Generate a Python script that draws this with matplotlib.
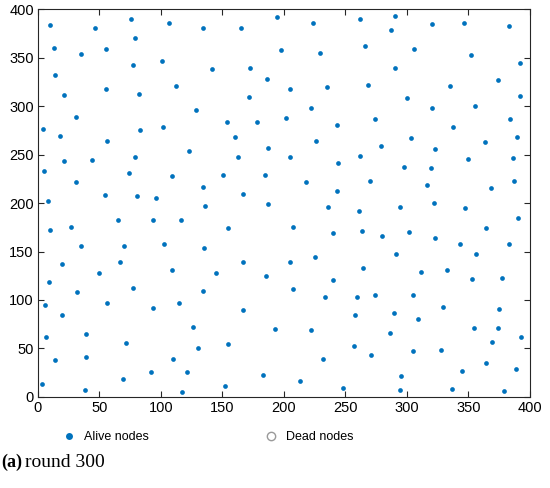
import matplotlib
matplotlib.use("Agg")
import matplotlib.pyplot as plt
from matplotlib.lines import Line2D

# Alive node positions (x, y)
alive_x = [9.5, 46.6, 75.6, 79.1, 12.8, 35, 55.5, 77, 14.1, 55, 21.4, 81.8, 31.2, 4.3, 82.6, 17.9,
           106.5, 134.1, 165, 194.3, 197.8, 101.1, 141.2, 172.4, 186.4, 112.5, 171.5, 128.2, 101.6, 153.4, 178.3, 159.9,
           223.3, 261.5, 290, 287, 229, 266.1, 290, 204.6, 235, 268.5, 299.7, 222.2, 201.4, 243.3, 274.2, 226.3,
           320.3, 346.3, 382.9, 305.4, 352, 391.6, 373.7, 334.7, 320, 355.5, 392.1, 383.5, 337.1, 303.5, 389.2,
           55.8, 21.4, 43.9, 78.9, 4.9, 74.2, 30.9, 54.7, 80.2, 95.9, 7.9, 64.8, 93.2, 9.8, 27.1, 35, 69.9, 19.5, 66.4, 49.6,
           122.5, 187, 162.6, 109.2, 150.4, 184.8, 134.4, 166.4, 135.8, 186.7, 116.3, 154.7, 102.4, 134.7, 166.4, 108.7, 144.5,
           278.9, 204.6, 244.1, 261.8, 297.3, 217.6, 269.7, 242.8, 236, 260.7, 294.3, 207.6, 240.1, 263.7, 279.7, 301.9,
           204.6, 225, 291, 264.2,
           363.4, 323, 349.8, 385.9, 319.5, 316, 368.5, 387.2, 322.2, 347.2, 390.5, 322.8, 364.2, 343.1, 382.7, 355.8,
           311.6, 332.8,
           9.2, 31.7, 77, 5.4, 55.8, 93.5, 19.2, 6.5, 38.7, 71.5, 13.8, 39.3, 91.9, 69.4, 3, 38.5,
           185.4, 133.9, 114.4, 166.9, 125.8, 192.9, 154.7, 130.3, 109.5, 120.9, 182.7, 151.8, 117.3,
           207.6, 239.8, 233.1, 259.6, 274, 257.7, 289.4, 222.2, 286.2, 256.9, 231.4, 270.5, 213, 248, 294.9, 294.6,
           352.8, 377, 304.6, 329, 375, 309.2, 354.7, 374, 369.1, 392.7, 305.1, 327.4, 364, 344.7, 388.9, 336.8, 378.9]
alive_y = [383.8, 380.7, 389.7, 370.4, 359.8, 353.6, 358.8, 342.6, 331.6, 317.8, 311.3, 312.4, 288.3, 276.3, 275.3, 268.8,
           385.2, 380.7, 380.7, 391.4, 357.7, 346.4, 338.5, 339.5, 327.8, 320.3, 309.3, 295.9, 278.7, 283.5, 283.2, 268.4,
           385.6, 389.3, 392.8, 378, 354.6, 362.2, 339.5, 317.5, 319.9, 321.6, 308.6, 297.9, 287.3, 280.4, 286.6, 264.2,
           384.5, 385.2, 382.5, 359.1, 352.3, 344.7, 326.8, 321, 297.6, 300, 310, 286.3, 278.4, 267.3, 268.4,
           264.2, 243.6, 244.6, 247.4, 233.3, 230.5, 221.6, 207.9, 207.2, 205.5, 202.1, 182.8, 182.8, 171.8, 174.9, 156, 156, 137.1, 138.9, 127.5,
           253.3, 256.7, 247.1, 228.1, 228.5, 228.5, 216.2, 209.6, 196.9, 199, 182.1, 174.5, 157.7, 153.6, 139.5, 131.2, 127.5,
           258.8, 247.4, 240.8, 248.1, 237.1, 221.3, 222.7, 212, 196.2, 191.8, 196.2, 175.3, 169.1, 171.1, 165.7, 169.8,
           139.5, 144.3, 147.1, 132.6,
           263.2, 256, 245.4, 246.4, 235.8, 218.2, 215.8, 222.7, 200, 194.8, 184.5, 164.2, 173.9, 158, 158, 147.7,
           129.2, 130.6,
           118.6, 107.9, 112.1, 95.2, 96.9, 91.8, 84.2, 61.9, 65.3, 55.3, 38.1, 40.9, 25.4, 18.2, 13.7, 6.9,
           124.7, 109.6, 97.2, 90, 71.9, 70.1, 54.3, 50.5, 39.5, 25.4, 23, 11.3, 5.2,
           111, 120.6, 103.1, 103.4, 105.5, 84.8, 86.2, 68.7, 66.3, 52.2, 39.2, 42.9, 16.2, 9.6, 22, 7.2,
           122, 122.7, 105.5, 92.8, 91, 80.4, 71.4, 71.4, 57, 62.2, 47.7, 48.8, 35.1, 27.1, 28.5, 8.6, 5.9]

dead_x = []
dead_y = []

x_ticks = [0, 50, 100, 150, 200, 250, 300, 350, 400]
y_ticks = [0, 50, 100, 150, 200, 250, 300, 350, 400]

blue = "#0072BD"
axc = "#262626"
plt.rcParams["font.family"] = ["Liberation Sans", "DejaVu Sans"]

fig = plt.figure(figsize=(5.5, 4.88), dpi=100)
ax = fig.add_axes([0.069, 0.1865, 0.8945, 0.795])
ax.plot(alive_x, alive_y, "o", color=blue, markersize=3.4, markeredgewidth=0, linestyle="none")
ax.plot(dead_x, dead_y, "o", mfc="none", mec="#9a9a9a", markersize=5, linestyle="none")
ax.set_xlim(0, 400)
ax.set_ylim(0, 400)
ax.set_xticks(x_ticks)
ax.set_yticks(y_ticks)
ax.tick_params(direction="in", top=True, right=True, length=4, width=0.8, colors=axc,
               labelsize=10.5, labelcolor="black", pad=3)
for s in ax.spines.values():
    s.set_color(axc)
    s.set_linewidth(0.8)

handles = [Line2D([], [], marker="o", color=blue, linestyle="none", markersize=5, markeredgewidth=0),
           Line2D([], [], marker="o", mfc="none", mec="#9a9a9a", linestyle="none", markersize=6)]
fig.legend(handles, ["Alive nodes", "Dead nodes"], loc="center left", bbox_to_anchor=(0.0945, 0.1045),
           ncol=2, frameon=False, fontsize=9, handlelength=1.0, handletextpad=0.7, columnspacing=9.2,
           borderpad=0.4)

fig.text(0.002, 0.053, "(a)", fontsize=13, fontweight="bold", family="Liberation Serif", va="center")
fig.text(0.046, 0.053, "round 300", fontsize=14, family="Liberation Serif", va="center")

fig.savefig("out.png", dpi=100)
